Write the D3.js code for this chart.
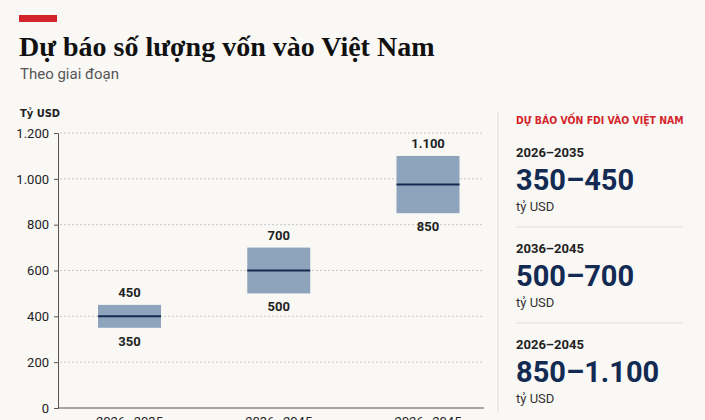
<!DOCTYPE html>
<meta charset="utf-8">
<style>
    body { margin: 0; background: #f9f8f5; }
    svg { display: block; }
</style>
<body>
<script src="https://cdn.jsdelivr.net/npm/d3@7"></script>
<script>
    // data
    var periods = ["2026–2035", "2036–2045", "2026–2045"];
    var lows = [350, 500, 850];
    var highs = [450, 700, 1100];
    var mids = [400, 600, 975];
    var yTicks = [0, 200, 400, 600, 800, 1000, 1200];
    var panelLabels = ["350–450", "500–700", "850–1.100"];

    var width = 705, height = 420;
    var fmt = function (v) { return d3.format(",")(v).replace(/,/g, "."); };

    var svg = d3.select("body").append("svg")
        .attr("width", width)
        .attr("height", height);

    svg.append("rect").attr("width", width).attr("height", height).attr("fill", "#f9f8f5");

    // header
    svg.append("rect").attr("x", 19).attr("y", 15).attr("width", 38).attr("height", 7).attr("fill", "#d4242b");
    svg.append("text")
        .attr("x", 19).attr("y", 56)
        .style("font-family", "'Liberation Serif', serif")
        .style("font-weight", "bold")
        .style("font-size", "28px")
        .attr("fill", "#111")
        .text("Dự báo số lượng vốn vào Việt Nam");
    svg.append("text")
        .attr("x", 20).attr("y", 79)
        .style("font-family", "Roboto, sans-serif")
        .style("font-size", "15px")
        .attr("fill", "#555")
        .text("Theo giai đoạn");

    // chart
    var x = d3.scalePoint().domain(periods).range([129.5, 428]);
    var y = d3.scaleLinear().domain([0, 1200]).range([408, 133]);
    var boxW = 63;

    svg.append("text")
        .attr("x", 20).attr("y", 117)
        .style("font-family", "'DejaVu Sans Condensed', sans-serif")
        .style("font-weight", "bold")
        .style("font-size", "11px")
        .attr("fill", "#222")
        .text("Tỷ USD");

    svg.append("g")
        .selectAll("line")
        .data(yTicks.filter(function (d) { return d > 0; }))
        .enter().append("line")
        .attr("x1", 60).attr("x2", 484)
        .attr("y1", function (d) { return y(d); })
        .attr("y2", function (d) { return y(d); })
        .attr("stroke", "#c8c8c8")
        .attr("stroke-dasharray", "2,2");

    var yAxis = svg.append("g")
        .attr("transform", "translate(58,0)")
        .call(d3.axisLeft(y).tickValues(yTicks).tickFormat(fmt).tickSize(4).tickPadding(5));
    yAxis.select(".domain").attr("stroke", "#555");
    yAxis.selectAll(".tick line").attr("stroke", "#555");
    yAxis.selectAll("text")
        .style("font-family", "Roboto, sans-serif")
        .style("font-size", "13px")
        .attr("fill", "#222");

    svg.append("line")
        .attr("x1", 58).attr("x2", 484)
        .attr("y1", y(0)).attr("y2", y(0))
        .attr("stroke", "#555");

    // period labels under the axis (cut by the frame, as in the original)
    svg.append("g")
        .selectAll("text")
        .data(periods)
        .enter().append("text")
        .attr("x", function (d) { return x(d); })
        .attr("y", 426)
        .attr("text-anchor", "middle")
        .style("font-family", "Roboto, sans-serif")
        .style("font-size", "13px")
        .attr("fill", "#222")
        .text(function (d) { return d; });

    var boxes = svg.append("g")
        .selectAll("g")
        .data(periods)
        .enter().append("g");

    boxes.append("rect")
        .attr("x", function (d) { return x(d) - boxW / 2; })
        .attr("y", function (d, i) { return y(highs[i]); })
        .attr("width", boxW)
        .attr("height", function (d, i) { return y(lows[i]) - y(highs[i]); })
        .attr("fill", "#8da4bc");

    boxes.append("line")
        .attr("x1", function (d) { return x(d) - boxW / 2; })
        .attr("x2", function (d) { return x(d) + boxW / 2; })
        .attr("y1", function (d, i) { return y(mids[i]); })
        .attr("y2", function (d, i) { return y(mids[i]); })
        .attr("stroke", "#142a52")
        .attr("stroke-width", 2);

    boxes.append("text")
        .attr("x", function (d) { return x(d); })
        .attr("y", function (d, i) { return y(highs[i]) - 8; })
        .attr("text-anchor", "middle")
        .style("font-family", "Roboto, sans-serif")
        .style("font-weight", "bold")
        .style("font-size", "13px")
        .attr("fill", "#222")
        .text(function (d, i) { return fmt(highs[i]); });

    boxes.append("text")
        .attr("x", function (d) { return x(d); })
        .attr("y", function (d, i) { return y(lows[i]) + 18; })
        .attr("text-anchor", "middle")
        .style("font-family", "Roboto, sans-serif")
        .style("font-weight", "bold")
        .style("font-size", "13px")
        .attr("fill", "#222")
        .text(function (d, i) { return fmt(lows[i]); });

    // side panel
    svg.append("line")
        .attr("x1", 498).attr("x2", 498)
        .attr("y1", 112).attr("y2", 413)
        .attr("stroke", "#ddd");

    svg.append("text")
        .attr("x", 516).attr("y", 124)
        .style("font-family", "'DejaVu Sans Condensed', sans-serif")
        .style("font-weight", "bold")
        .style("font-size", "10.4px")
        .attr("fill", "#d4242b")
        .text("DỰ BÁO VỐN FDI VÀO VIỆT NAM");

    var step = 96;
    var items = svg.append("g")
        .selectAll("g")
        .data(periods)
        .enter().append("g")
        .attr("transform", function (d, i) { return "translate(516," + (157 + i * step) + ")"; });

    items.append("text")
        .style("font-family", "Roboto, sans-serif")
        .style("font-weight", "bold")
        .style("font-size", "13px")
        .attr("fill", "#222")
        .text(function (d) { return d; });

    items.append("text")
        .attr("y", 33)
        .style("font-family", "Roboto, sans-serif")
        .style("font-weight", "bold")
        .style("font-size", "29px")
        .attr("fill", "#132a52")
        .text(function (d, i) { return panelLabels[i]; });

    items.append("text")
        .attr("y", 54)
        .style("font-family", "Roboto, sans-serif")
        .style("font-size", "13px")
        .attr("fill", "#333")
        .text("tỷ USD");

    items.filter(function (d, i) { return i < periods.length - 1; })
        .append("line")
        .attr("x1", 0).attr("x2", 167)
        .attr("y1", 70).attr("y2", 70)
        .attr("stroke", "#ddd");
</script>
</body>
